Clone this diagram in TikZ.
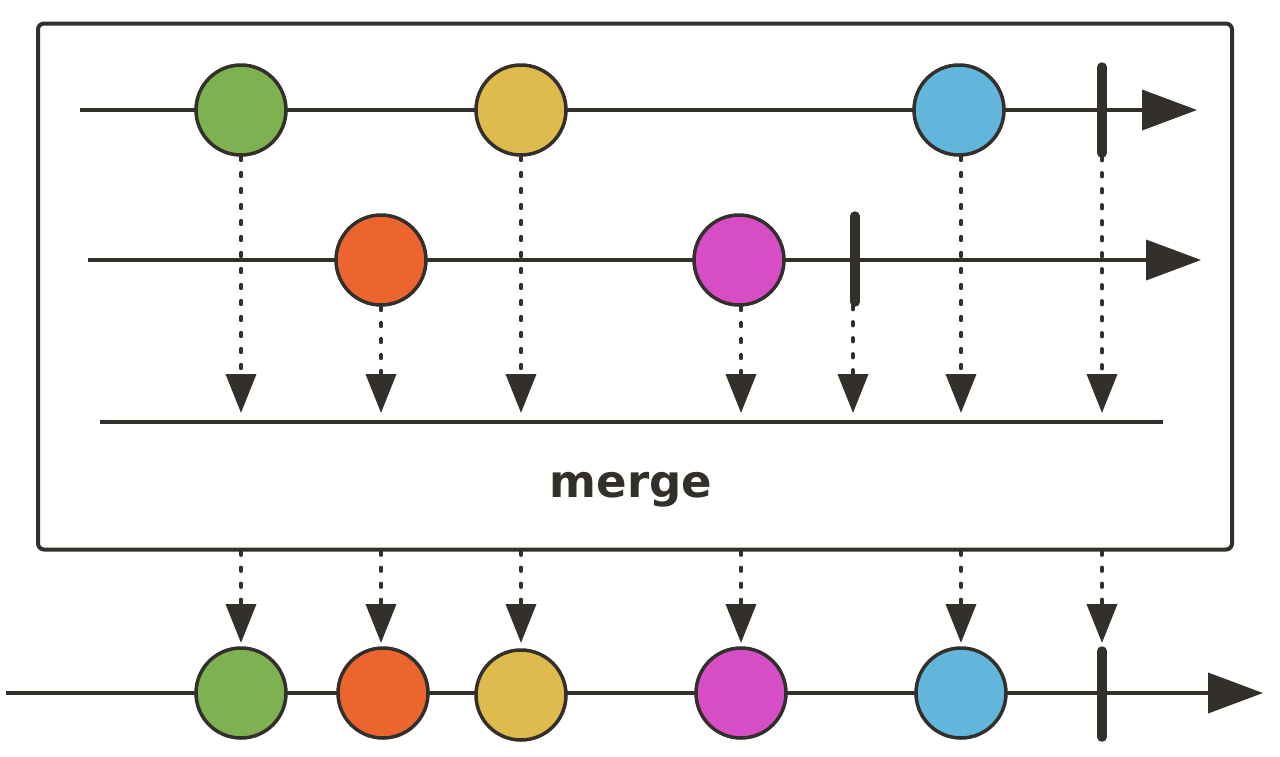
\documentclass[tikz,border=0pt]{standalone}
\usepackage{fontspec}
\newfontfamily\mergefont{DejaVu Sans}
\usetikzlibrary{arrows.meta}
\definecolor{dk}{HTML}{33302B}
\definecolor{cgreen}{HTML}{7EB14F}
\definecolor{cyellow}{HTML}{DFBB4D}
\definecolor{cblue}{HTML}{63B6DB}
\definecolor{corange}{HTML}{EC652E}
\definecolor{cmag}{HTML}{D74DC6}
\tikzset{
  timeline/.style={draw=dk, line width=3.8pt, -{Triangle[length=55pt,width=40pt]}, dk},
  marble/.style={circle, draw=dk, line width=3.5pt, minimum size=90pt, inner sep=0pt},
  termbar/.style={draw=dk, line width=9.5pt, line cap=round},
  dotarrow/.style={draw=dk, line width=3.8pt, line cap=round, dash pattern=on 3.5pt off 12.5pt, -{Triangle[length=39pt,width=30pt]}, dk},
  opbox/.style={draw=dk, line width=4pt, rounded corners=6pt, minimum width=1194pt, minimum height=526pt, inner sep=0pt},
}
\begin{document}
\begin{tikzpicture}[x=1pt,y=-1pt]
\useasboundingbox (0,0) rectangle (1280,756);
% operator box
\node[opbox] (box) at (635,286.5) {};
\node[text=dk, font=\mergefont\bfseries\fontsize{45}{45}\selectfont] (lbl) at (631,490) {merge};
% top source line
\coordinate (a0) at (80,110);
\coordinate (a1) at (1197,110);
\draw[timeline] (a0) -- (a1);
\draw[termbar] (1102,67) coordinate (ta) -- (1102,153) coordinate (tb);
\node[marble, fill=cgreen] (g1) at (241,110) {};
\node[marble, fill=cyellow] (y1) at (521,110) {};
\node[marble, fill=cblue] (b1) at (959,110) {};
% second source line
\coordinate (s0) at (88,260);
\coordinate (s1) at (1201,260);
\draw[timeline] (s0) -- (s1);
\draw[termbar] (855,216) coordinate (ua) -- (855,302) coordinate (ub);
\node[marble, fill=corange] (o1) at (381,260) {};
\node[marble, fill=cmag] (m1) at (739,260) {};
% merge line
\coordinate (ml0) at (100,422);
\coordinate (ml1) at (1163,422);
\draw[dk, line width=3.8pt] (ml0) -- (ml1);
% targets on merge line
\coordinate (d1) at (241,413);
\coordinate (d2) at (381,413);
\coordinate (d3) at (521,413);
\coordinate (d4) at (741,413);
\coordinate (d5) at (853,413);
\coordinate (d6) at (961,413);
\coordinate (d7) at (1102,413);
\draw[dotarrow] (g1.south) -- (d1);
\draw[dotarrow] (o1.south) -- (d2);
\draw[dotarrow] (y1.south) -- (d3);
\draw[dotarrow] (m1.south) ++(2,0) -- (d4);
\draw[dotarrow] (ub) ++(-2,4) -- (d5);
\draw[dotarrow] (b1.south) ++(2,0) -- (d6);
\draw[dotarrow] (tb) ++(0,4) -- (d7);
% output line
\coordinate (r0) at (6,693);
\coordinate (r1) at (1263,693);
\draw[timeline] (r0) -- (r1);
\draw[termbar] (1102,651) coordinate (va) -- (1102,737) coordinate (vb);
\node[marble, fill=cgreen] (g2) at (241,693) {};
\node[marble, fill=corange] (o2) at (383,693) {};
\node[marble, fill=cyellow] (y2) at (521,695) {};
\node[marble, fill=cmag] (m2) at (741,693) {};
\node[marble, fill=cblue] (b2) at (961,693) {};
% output arrows
\coordinate (e1) at (241,643);
\coordinate (e2) at (381,643);
\coordinate (e3) at (521,643);
\coordinate (e4) at (741,643);
\coordinate (e5) at (961,643);
\coordinate (e6) at (1102,643);
\draw[dotarrow] (box.south -| e1) -- (e1);
\draw[dotarrow] (box.south -| e2) -- (e2);
\draw[dotarrow] (box.south -| e3) -- (e3);
\draw[dotarrow] (box.south -| e4) -- (e4);
\draw[dotarrow] (box.south -| e5) -- (e5);
\draw[dotarrow] (box.south -| e6) -- (e6);
\end{tikzpicture}
\end{document}
